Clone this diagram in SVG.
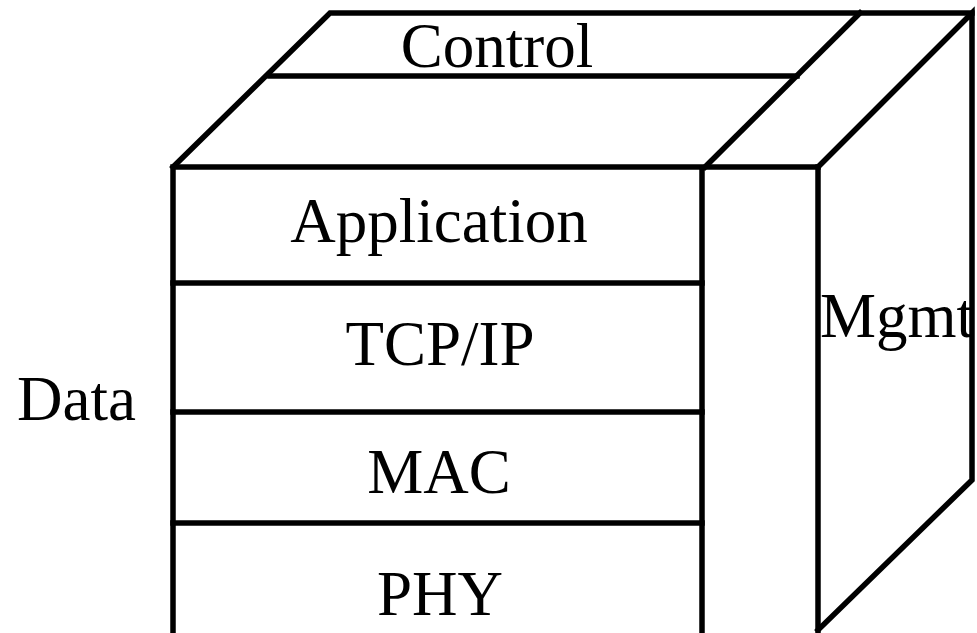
<svg xmlns="http://www.w3.org/2000/svg" width="977" height="633" viewBox="0 0 977 633">
<style>
.l{stroke:#000;stroke-width:5.5;fill:none;stroke-linejoin:miter;stroke-linecap:square}
.t{font-family:"Liberation Serif","Times New Roman",serif;font-size:63px;fill:#000}
.c{text-anchor:middle}
</style>
<rect width="977" height="633" fill="#fff"/>
<g id="control-plane">
<path class="l" d="M173,167 L330,13 L972,13"/>
<line class="l" x1="270" y1="76" x2="797" y2="76"/>
<line class="l" x1="705" y1="167" x2="860" y2="13"/>
<text class="t c" x="497" y="67">Control</text>
</g>
<g id="mgmt-plane">
<path class="l" d="M818,167 L972,13 L972,480 L818,630"/>
<line class="l" x1="818" y1="167" x2="818" y2="640"/>
<text class="t" x="820" y="337">Mgmt</text>
</g>
<g id="data-plane">
<path class="l" d="M173,640 L173,167 L818,167"/>
<line class="l" x1="702" y1="169" x2="702" y2="640"/>
<text class="t" x="17" y="420">Data</text>
</g>
<g id="application">
<text class="t c" x="439" y="242">Application</text>
<line class="l" x1="173" y1="283" x2="702" y2="283"/>
</g>
<g id="tcpip">
<text class="t c" x="440" y="365">TCP/IP</text>
<line class="l" x1="173" y1="412" x2="702" y2="412"/>
</g>
<g id="mac">
<text class="t c" x="439" y="493">MAC</text>
<line class="l" x1="173" y1="523" x2="702" y2="523"/>
</g>
<g id="phy">
<text class="t c" x="440" y="615">PHY</text>
</g>
<g id="connectors"></g>
</svg>
